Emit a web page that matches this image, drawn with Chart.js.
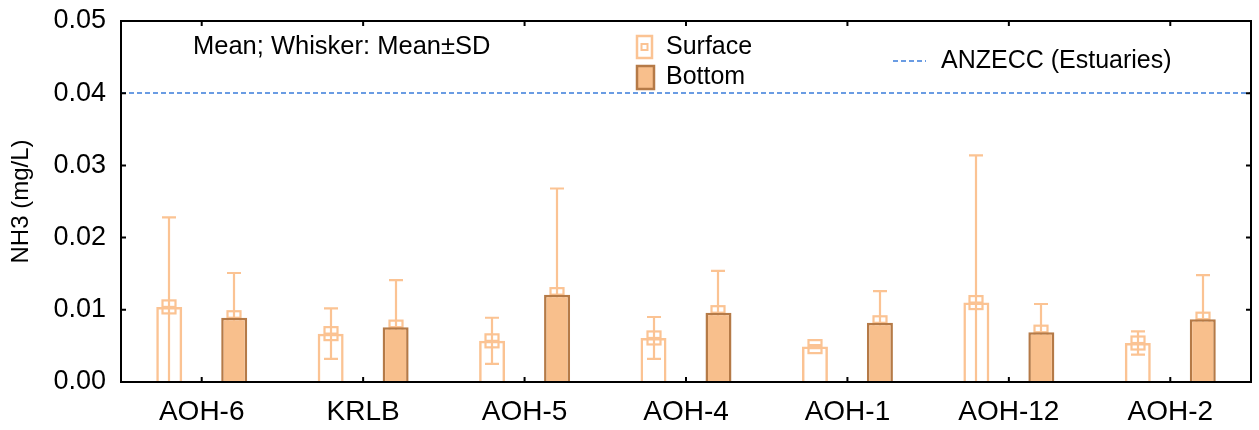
<!DOCTYPE html>
<html>
<head>
<meta charset="utf-8">
<title>NH3</title>
<script src="https://cdn.jsdelivr.net/npm/chart.js@4.4.1/dist/chart.umd.min.js"></script>
<style>
  html, body { margin: 0; padding: 0; background: #fff; }
  #wrap { width: 1259px; height: 430px; }
</style>
</head>
<body>
<div id="wrap"><canvas id="chart" width="1259" height="430"></canvas></div>
<script>
// 站点
const sites = ['AOH-6', 'KRLB', 'AOH-5', 'AOH-4', 'AOH-1', 'AOH-12', 'AOH-2'];
// 表层：平均值 / 标准差
const surfaceMean = [0.0104, 0.0067, 0.0057, 0.0061, 0.0049, 0.0110, 0.0054];
const surfaceSD   = [0.0124, 0.0035, 0.0032, 0.0029, 0.0002, 0.0204, 0.0016];
// 底层：平均值 / 标准差
const bottomMean  = [0.0089, 0.0076, 0.0121, 0.0096, 0.0082, 0.0069, 0.0087];
const bottomSD    = [0.0062, 0.0065, 0.0147, 0.0058, 0.0044, 0.0039, 0.0061];
// ANZECC 河口标准
const anzecc = 0.04;
const yTicks = [0, 0.01, 0.02, 0.03, 0.04, 0.05];

const FONT = '"Liberation Sans", Arial, sans-serif';
const lightOrange = '#FBC393';
const bottomFill = '#F8BF8C';
const bottomEdge = '#B57A47';
const lineBlue = '#6A9CE3';

Chart.defaults.font.family = FONT;
Chart.defaults.color = '#000';

// 误差线和均值标记（画在柱子下面，实心柱会盖住下半部分）
const errorBars = {
    id: 'errorBars',
    beforeDatasetsDraw(chart) {
        const ctx = chart.ctx;
        const y = chart.scales.y;
        ctx.save();
        ctx.strokeStyle = lightOrange;
        ctx.lineWidth = 2.2;
        chart.data.datasets.forEach((ds, i) => {
            const meta = chart.getDatasetMeta(i);
            meta.data.forEach((bar, j) => {
                const m = ds.data[j];
                const sd = ds.sd[j];
                const x = Math.round(bar.x);
                const yM = y.getPixelForValue(m);
                const yHi = y.getPixelForValue(m + sd);
                const yLo = y.getPixelForValue(Math.max(0, m - sd));
                ctx.beginPath();
                ctx.moveTo(x, yHi);
                ctx.lineTo(x, yLo);
                ctx.moveTo(x - 7, yHi);
                ctx.lineTo(x + 7, yHi);
                ctx.moveTo(x - 7, yLo);
                ctx.lineTo(x + 7, yLo);
                ctx.stroke();
                // 均值标记
                ctx.strokeRect(x - 6.5, yM - 6.5, 13, 13);
                ctx.beginPath();
                ctx.moveTo(x - 6.5, yM);
                ctx.lineTo(x + 6.5, yM);
                ctx.stroke();
            });
        });
        ctx.restore();
    }
};

// 边框、向内刻度、标准线和图例
const frame = {
    id: 'frame',
    afterDatasetsDraw(chart) {
        const ctx = chart.ctx;
        const { left, right, top, bottom } = chart.chartArea;
        const x = chart.scales.x;
        const y = chart.scales.y;
        ctx.save();

        // 标准线
        const yA = Math.round(y.getPixelForValue(anzecc));
        ctx.strokeStyle = lineBlue;
        ctx.lineWidth = 2;
        ctx.setLineDash([5, 3]);
        ctx.beginPath();
        ctx.moveTo(left, yA);
        ctx.lineTo(right, yA);
        ctx.stroke();
        ctx.setLineDash([]);

        // 边框
        ctx.strokeStyle = '#000';
        ctx.lineWidth = 2;
        ctx.strokeRect(left, top, right - left, bottom - top);

        // 刻度
        ctx.beginPath();
        yTicks.forEach(v => {
            const py = y.getPixelForValue(v);
            ctx.moveTo(left, py); ctx.lineTo(left + 5, py);
            ctx.moveTo(right, py); ctx.lineTo(right - 5, py);
        });
        sites.forEach((s, i) => {
            const px = x.getPixelForValue(i);
            ctx.moveTo(px, bottom); ctx.lineTo(px, bottom - 5);
            ctx.moveTo(px, top); ctx.lineTo(px, top + 5);
        });
        ctx.stroke();

        // 图例
        ctx.fillStyle = '#000';
        ctx.textBaseline = 'middle';
        ctx.textAlign = 'left';
        ctx.font = '25.5px ' + FONT;
        ctx.fillText('Mean; Whisker: Mean\u00B1SD', 193, 47);
        ctx.font = '25px ' + FONT;
        ctx.fillText('Surface', 666, 47);
        ctx.fillText('Bottom', 666, 77);
        ctx.fillText('ANZECC (Estuaries)', 941, 61);

        ctx.lineWidth = 2.5;
        ctx.strokeStyle = lightOrange;
        ctx.strokeRect(637, 36, 15, 22);
        ctx.lineWidth = 2;
        ctx.strokeRect(641.5, 44, 6, 6);

        ctx.fillStyle = bottomFill;
        ctx.fillRect(637, 66, 17, 23);
        ctx.lineWidth = 2.5;
        ctx.strokeStyle = bottomEdge;
        ctx.strokeRect(637, 66, 17, 23);

        ctx.strokeStyle = lineBlue;
        ctx.lineWidth = 2;
        ctx.setLineDash([5, 3]);
        ctx.beginPath();
        ctx.moveTo(893, 61);
        ctx.lineTo(926, 61);
        ctx.stroke();
        ctx.restore();
    }
};

new Chart(document.getElementById('chart'), {
    type: 'bar',
    data: {
        labels: sites,
        datasets: [
            {
                label: 'Surface',
                data: surfaceMean,
                sd: surfaceSD,
                backgroundColor: 'rgba(255,255,255,0)',
                borderColor: lightOrange,
                borderWidth: 2.5,
                categoryPercentage: 0.805,
                barPercentage: 0.4
            },
            {
                label: 'Bottom',
                data: bottomMean,
                sd: bottomSD,
                backgroundColor: bottomFill,
                borderColor: bottomEdge,
                borderWidth: 2.5,
                categoryPercentage: 0.805,
                barPercentage: 0.4
            }
        ]
    },
    options: {
        responsive: false,
        animation: false,
        layout: { padding: { top: 21, right: 8, left: 0, bottom: 0 } },
        plugins: {
            legend: { display: false },
            tooltip: { enabled: false }
        },
        scales: {
            x: {
                grid: { display: false, drawTicks: false },
                border: { display: false },
                ticks: { font: { size: 28 }, color: '#000', padding: 13 },
                afterFit: s => { s.height = 48; s.paddingLeft = 0; s.paddingRight = 0; }
            },
            y: {
                min: 0,
                max: 0.05,
                grid: { display: false, drawTicks: false },
                border: { display: false },
                afterBuildTicks: s => { s.ticks = yTicks.map(v => ({ value: v })); },
                ticks: {
                    font: { size: 27 },
                    color: '#000',
                    padding: 15,
                    callback: v => Number(v).toFixed(2)
                },
                title: {
                    display: true,
                    text: 'NH3 (mg/L)',
                    font: { size: 24 },
                    color: '#000',
                    padding: { top: 7, bottom: 0 }
                },
                afterFit: s => { s.width = 121; s.paddingTop = 0; s.paddingBottom = 0; }
            }
        }
    },
    plugins: [errorBars, frame]
});
</script>
</body>
</html>
